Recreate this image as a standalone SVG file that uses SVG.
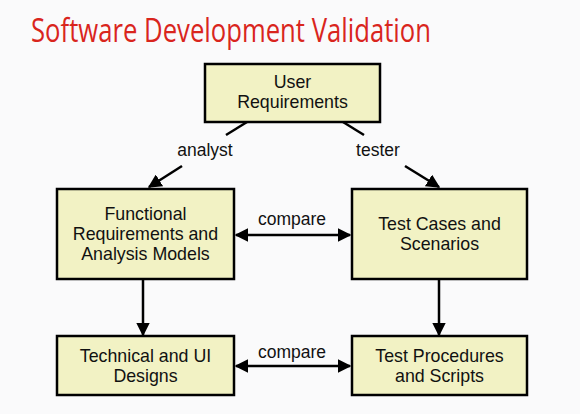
<svg xmlns="http://www.w3.org/2000/svg" width="580" height="414" viewBox="0 0 580 414">
  <style>
    .box { fill: #f2f2c4; stroke: #000; stroke-width: 2.5; }
    .lbl { font-family: "Liberation Sans", Arial, sans-serif; font-size: 17.8px; fill: #111; text-anchor: middle; }
    .edge { font-family: "Liberation Sans", Arial, sans-serif; font-size: 17.5px; fill: #111; text-anchor: middle; }
    .ln { stroke: #000; stroke-width: 2.5; fill: none; }
  </style>
  <defs>
    <marker id="ah" viewBox="0 0 10 10" refX="9" refY="5" markerWidth="5.5" markerHeight="5.5" orient="auto-start-reverse" markerUnits="strokeWidth">
      <path d="M0,0 L10,5 L0,10 z" fill="#000"/>
    </marker>
  </defs>
  <rect width="580" height="414" fill="#fafafb"/>

  <text x="31" y="42" font-family="'Open Sans', 'Noto Sans', sans-serif" font-size="32" fill="#d9251d" textLength="400" lengthAdjust="spacingAndGlyphs">Software Development Validation</text>

  <g id="connectors">
    <line class="ln" x1="247" y1="122" x2="226" y2="135"/>
    <line class="ln" x1="182" y1="166" x2="149" y2="187" marker-end="url(#ah)"/>
    <line class="ln" x1="343" y1="122" x2="364" y2="135"/>
    <line class="ln" x1="405" y1="166" x2="439" y2="187" marker-end="url(#ah)"/>
    <line class="ln" x1="143" y1="279" x2="143" y2="335" marker-end="url(#ah)"/>
    <line class="ln" x1="439" y1="279" x2="439" y2="335" marker-end="url(#ah)"/>
    <line class="ln" x1="236" y1="235" x2="350" y2="235" marker-start="url(#ah)" marker-end="url(#ah)"/>
    <line class="ln" x1="236" y1="366" x2="350" y2="366" marker-start="url(#ah)" marker-end="url(#ah)"/>
    <text class="edge" x="205" y="156">analyst</text>
    <text class="edge" x="378" y="156">tester</text>
    <text class="edge" x="292" y="225">compare</text>
    <text class="edge" x="292" y="358">compare</text>
  </g>

  <g id="user-requirements">
    <rect class="box" x="205" y="64" width="175" height="58"/>
    <text class="lbl" x="292.5" y="88">User</text>
    <text class="lbl" x="292.5" y="108">Requirements</text>
  </g>

  <g id="functional-requirements">
    <rect class="box" x="57" y="189" width="177" height="90"/>
    <text class="lbl" x="145.5" y="220">Functional</text>
    <text class="lbl" x="145.5" y="240">Requirements and</text>
    <text class="lbl" x="145.5" y="260">Analysis Models</text>
  </g>

  <g id="test-cases">
    <rect class="box" x="352" y="189" width="175" height="90"/>
    <text class="lbl" x="439.5" y="230">Test Cases and</text>
    <text class="lbl" x="439.5" y="250">Scenarios</text>
  </g>

  <g id="technical-designs">
    <rect class="box" x="57" y="336" width="177" height="59"/>
    <text class="lbl" x="145.5" y="362">Technical and UI</text>
    <text class="lbl" x="145.5" y="382">Designs</text>
  </g>

  <g id="test-procedures">
    <rect class="box" x="352" y="336" width="175" height="59"/>
    <text class="lbl" x="439.5" y="362">Test Procedures</text>
    <text class="lbl" x="439.5" y="382">and Scripts</text>
  </g>
</svg>
